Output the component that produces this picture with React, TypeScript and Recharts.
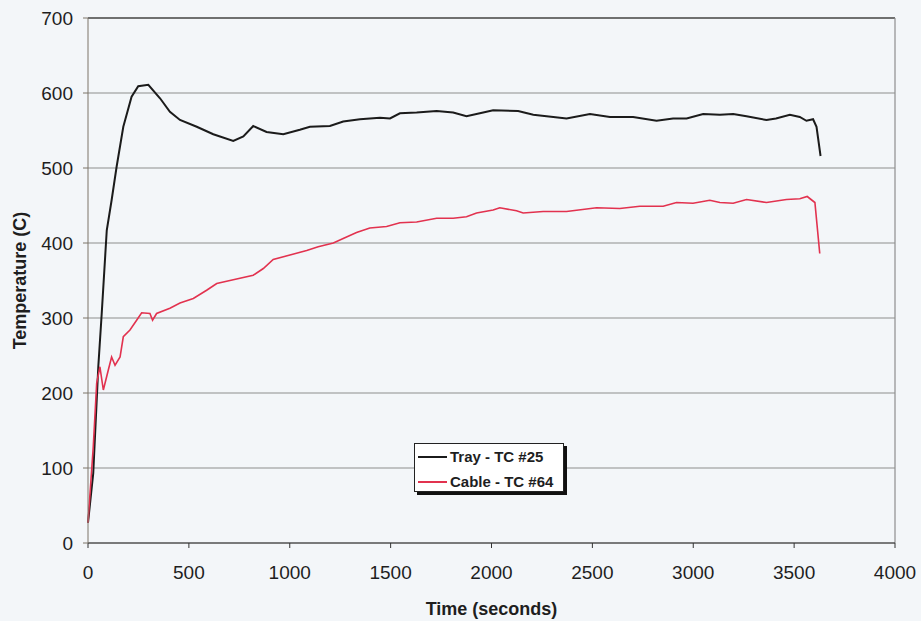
import { LineChart, Line, XAxis, YAxis, CartesianGrid, ReferenceLine, Label } from 'recharts';

const trayTime = [0, 26, 51, 68, 93, 117, 142, 175, 216, 249, 299, 357, 406, 456, 539, 621, 720, 770, 819, 885, 968, 1050, 1100, 1199, 1265, 1348, 1447, 1497, 1546, 1629, 1728, 1810, 1876, 1959, 2008, 2132, 2207, 2372, 2488, 2587, 2702, 2818, 2900, 2967, 3049, 3132, 3198, 3264, 3363, 3410, 3479, 3528, 3561, 3594, 3611, 3631];
const trayTemp = [27, 93, 235, 306, 417, 457, 502, 555, 595, 609, 611, 593, 575, 564, 555, 545, 536, 542, 556, 548, 545, 551, 555, 556, 562, 565, 567, 566, 573, 574, 576, 574, 569, 574, 577, 576, 571, 566, 572, 568, 568, 563, 566, 566, 572, 571, 572, 569, 564, 566, 571, 568, 563, 565, 555, 516];

const cableTime = [0, 26, 43, 59, 76, 101, 117, 134, 159, 175, 208, 241, 266, 307, 320, 340, 406, 456, 522, 588, 638, 720, 819, 869, 918, 1001, 1084, 1141, 1216, 1265, 1331, 1397, 1480, 1546, 1629, 1728, 1810, 1876, 1926, 2008, 2041, 2124, 2157, 2256, 2372, 2521, 2636, 2735, 2851, 2917, 2999, 3082, 3132, 3198, 3264, 3363, 3462, 3528, 3565, 3603, 3627];
const cableTemp = [27, 128, 213, 235, 204, 231, 248, 237, 248, 275, 284, 297, 307, 306, 297, 306, 313, 320, 326, 337, 346, 351, 357, 366, 378, 384, 390, 395, 400, 406, 414, 420, 422, 427, 428, 433, 433, 435, 440, 444, 447, 443, 440, 442, 442, 447, 446, 449, 449, 454, 453, 457, 454, 453, 458, 454, 458, 459, 462, 454, 386];

const xTicks = [0, 500, 1000, 1500, 2000, 2500, 3000, 3500, 4000];
const yTicks = [0, 100, 200, 300, 400, 500, 600, 700];

const trayData = trayTime.map((t, i) => ({ t, v: trayTemp[i] }));
const cableData = cableTime.map((t, i) => ({ t, v: cableTemp[i] }));

const FONT = 'Arial, "Liberation Sans", sans-serif';

export default function App() {
  return (
    <div style={{ position: 'relative', width: 921, height: 621, background: '#f3f6f9', fontFamily: FONT }}>
      <style>{'body{margin:0}'}</style>
      <LineChart width={921} height={621} margin={{ top: 18, right: 26, bottom: 0, left: 0 }}>
        <CartesianGrid vertical={false} stroke="#8e8e8e" strokeWidth={1.2} />
        <XAxis
          type="number"
          dataKey="t"
          domain={[0, 4000]}
          ticks={xTicks}
          height={78}
          allowDuplicatedCategory={false}
          stroke="#333"
          tickSize={5}
          tickMargin={18}
          tick={{ fill: '#1e1e1e', fontSize: 19, fontFamily: FONT }}
        >
          <Label value="Time (seconds)" position="insideBottom" offset={6} style={{ fill: '#1e1e1e', fontSize: 18, fontWeight: 'bold', fontFamily: FONT }} />
        </XAxis>
        <YAxis
          type="number"
          domain={[0, 700]}
          ticks={yTicks}
          width={88}
          stroke="#7d7468"
          tickSize={5}
          tickMargin={10}
          tick={{ fill: '#1e1e1e', fontSize: 19, fontFamily: FONT }}
        >
          <Label value="Temperature (C)" angle={-90} position="insideLeft" offset={20} style={{ textAnchor: 'middle', fill: '#1e1e1e', fontSize: 18, fontWeight: 'bold', fontFamily: FONT }} />
        </YAxis>
        <ReferenceLine y={700} stroke="#555" strokeWidth={1.5} />
        <ReferenceLine x={4000} stroke="#8e8e8e" strokeWidth={1.2} />
        <Line data={trayData} dataKey="v" name="Tray - TC #25" stroke="#1b1b1b" strokeWidth={2} dot={false} isAnimationActive={false} />
        <Line data={cableData} dataKey="v" name="Cable - TC #64" stroke="#e2324f" strokeWidth={1.6} dot={false} isAnimationActive={false} />
      </LineChart>
      <div
        style={{
          position: 'absolute',
          left: 414,
          top: 443,
          width: 150,
          height: 49,
          background: '#ffffff',
          border: '1px solid #222',
          boxShadow: '3px 3px 0 #111',
          boxSizing: 'border-box',
          fontSize: 15,
          fontWeight: 'bold',
          color: '#1e1e1e',
        }}
      >
        {[
          { name: 'Tray - TC #25', color: '#1b1b1b' },
          { name: 'Cable - TC #64', color: '#e2324f' },
        ].map((item, i) => (
          <div key={item.name} style={{ position: 'absolute', left: 3, top: 4 + i * 25, display: 'flex', alignItems: 'center', whiteSpace: 'nowrap' }}>
            <span style={{ display: 'inline-block', width: 29, height: 2, background: item.color, marginRight: 3 }} />
            <span>{item.name}</span>
          </div>
        ))}
      </div>
    </div>
  );
}
